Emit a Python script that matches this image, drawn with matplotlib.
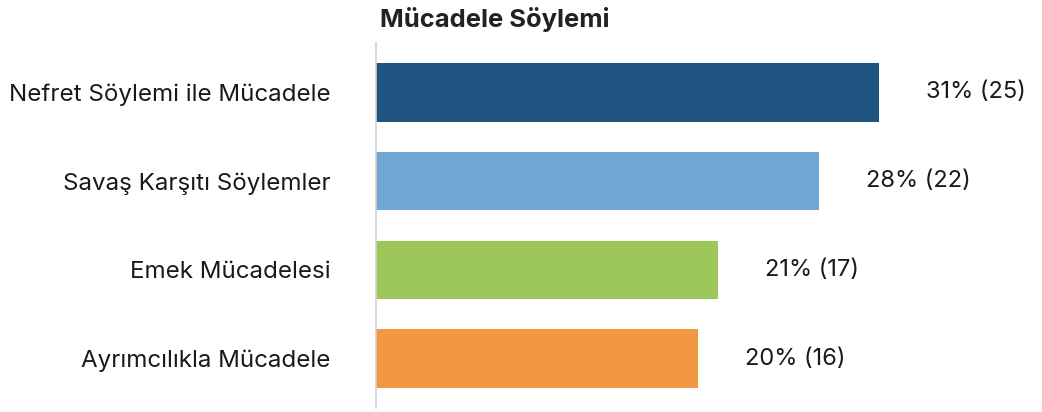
import matplotlib
matplotlib.use("Agg")
import matplotlib.pyplot as plt

plt.rcParams['font.family'] = ['Inter', 'DejaVu Sans']

categories = ["Nefret Söylemi ile Mücadele", "Savaş Karşıtı Söylemler",
              "Emek Mücadelesi", "Ayrımcılıkla Mücadele"]
counts = [25, 22, 17, 16]
percents = [31, 28, 21, 20]
colors = ["#1f5380", "#6fa6d4", "#9dc75a", "#f39842"]

fig = plt.figure(figsize=(10.42, 4.12), dpi=100)
ax = fig.add_axes([376 / 1042, 4 / 412, 654 / 1042, 365 / 412])

y = list(range(len(categories)))
bars = ax.barh(y, counts, height=0.66, color=colors)

ax.set_xlim(0, 25 * 654 / 503)
ax.set_ylim(3.558, -0.558)
ax.set_yticks(y)
ax.set_yticklabels(categories, fontsize=17.4, color="#1a1a1a")
ax.tick_params(axis="y", length=0, pad=33)
ax.set_xticks([])

for s in ["top", "right", "bottom"]:
    ax.spines[s].set_visible(False)
ax.spines["left"].set_color("#d0d0d0")
ax.spines["left"].set_linewidth(1.2)

for b, c, p in zip(bars, counts, percents):
    ax.annotate(f"{p}% ({c})", (b.get_width(), b.get_y() + b.get_height() / 2),
                xytext=(34, 0), textcoords="offset points",
                va="center", ha="left", fontsize=17, color="#1a1a1a")

fig.text(380 / 1042, (412 - 27) / 412, "Mücadele Söylemi", fontsize=18.4,
         fontweight="bold", color="#222222", va="baseline", ha="left")

fig.savefig("out.png", dpi=100)
